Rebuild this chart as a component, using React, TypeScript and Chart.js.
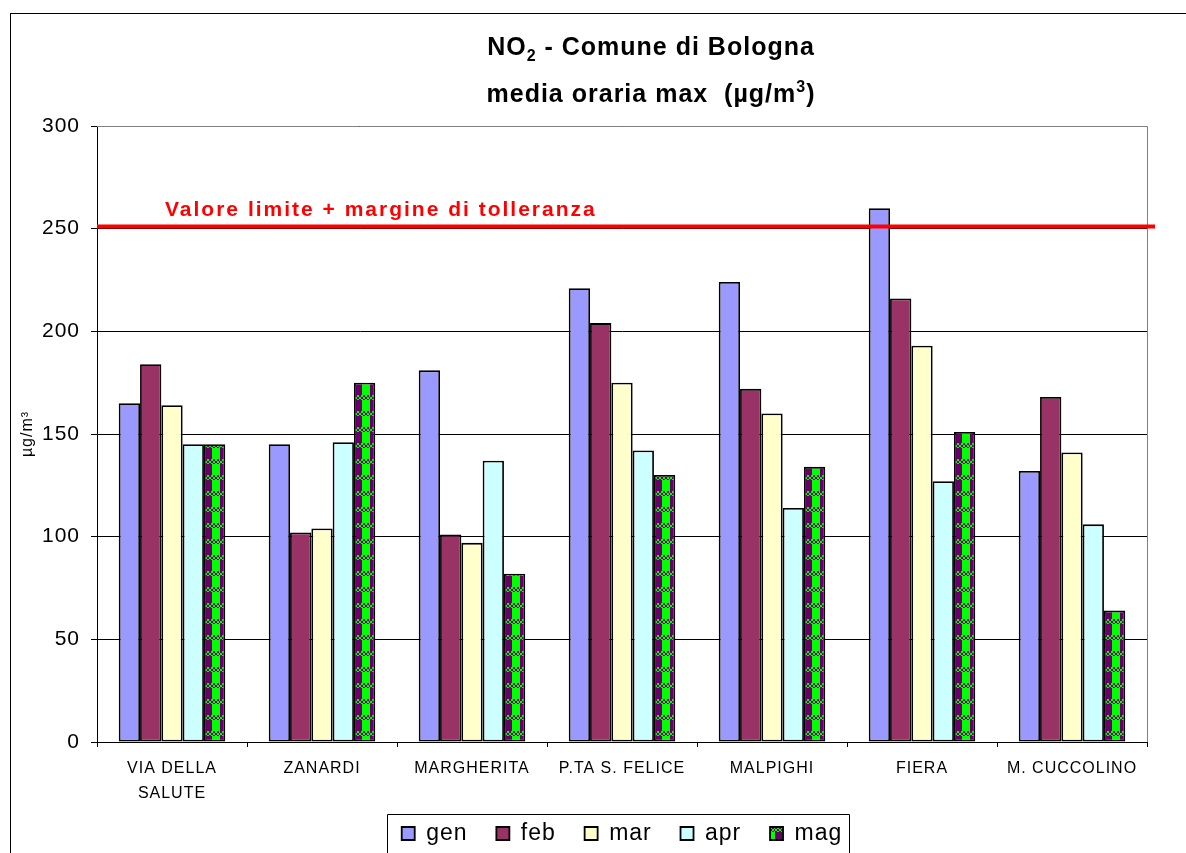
import React, { useEffect, useRef } from 'react';
import { Chart, registerables } from 'chart.js';

Chart.register(...registerables);

// ---------- DATA ----------
const categories: (string | string[])[] = [
  ['VIA DELLA', 'SALUTE'],
  'ZANARDI',
  'MARGHERITA',
  'P.TA S. FELICE',
  'MALPIGHI',
  'FIERA',
  'M. CUCCOLINO',
];
const seriesNames = ['gen', 'feb', 'mar', 'apr', 'mag'];
const genValues = [165, 145, 181, 221, 224, 260, 132];
const febValues = [184, 102, 101, 204, 172, 216, 168];
const marValues = [164, 104, 97, 175, 160, 193, 141];
const aprValues = [145, 146, 137, 142, 114, 127, 106];
const magValues = [145, 175, 82, 130, 134, 151, 64];
const yMin = 0;
const yMax = 300;
const yStep = 50;
const limitValue = 251;
const limitLabel = 'Valore limite + margine di tolleranza';
const yAxisTitle = 'µg/m³';
const titleLine1 = [
  { t: 'NO', k: 'n' },
  { t: '2', k: 'sub' },
  { t: ' - Comune di Bologna', k: 'n' },
];
const titleLine2 = [
  { t: 'media oraria max  (µg/m', k: 'n' },
  { t: '3', k: 'sup' },
  { t: ')', k: 'n' },
];

// ---------- STYLE ----------
const FONT = "'Liberation Sans', Arial, Helvetica, sans-serif";
const colors = ['#9999FF', '#993366', '#FFFFCC', '#CCFFFF'];

function makeMagPattern(ctx: CanvasRenderingContext2D): CanvasPattern | string {
  const c = document.createElement('canvas');
  c.width = 15;
  c.height = 16;
  const g = c.getContext('2d');
  if (!g) return '#00FF00';
  g.fillStyle = '#00FF00';
  g.fillRect(0, 0, 15, 16);
  g.fillStyle = '#660066';
  g.fillRect(0, 0, 7, 11);
  for (let y = 11; y < 16; y += 2) {
    for (let x = 0; x < 15; x += 2) {
      if (((x + (y - 11)) / 2) % 2 === 0) g.fillRect(x, y, 2, 2);
    }
  }
  const p = ctx.createPattern(c, 'repeat');
  if (!p) return '#00FF00';
  try {
    p.setTransform(new DOMMatrix().translate(10, 0));
  } catch (e) {}
  return p;
}

function drawRich(
  ctx: CanvasRenderingContext2D,
  parts: { t: string; k: string }[],
  cx: number,
  baseline: number,
  size: number
) {
  const fontFor = (k: string) =>
    `bold ${k === 'n' ? size : Math.round(size * 0.65)}px ${FONT}`;
  let total = 0;
  const widths = parts.map((p) => {
    ctx.font = fontFor(p.k);
    const w = ctx.measureText(p.t).width;
    total += w;
    return w;
  });
  let x = cx - total / 2;
  ctx.textAlign = 'left';
  ctx.textBaseline = 'alphabetic';
  parts.forEach((p, i) => {
    ctx.font = fontFor(p.k);
    const dy = p.k === 'sub' ? size * 0.22 : p.k === 'sup' ? -size * 0.42 : 0;
    ctx.fillText(p.t, x, baseline + dy);
    x += widths[i];
  });
}

const setSpacing = (chart: any) => {
  try {
    (chart.ctx as any).letterSpacing = '1px';
  } catch (e) {}
};

const decorPlugin = {
  id: 'decor',
  beforeUpdate(chart: any) {
    setSpacing(chart);
  },
  beforeLayout(chart: any) {
    setSpacing(chart);
  },
  beforeDraw(chart: any) {
    setSpacing(chart);
  },
  beforeDatasetsDraw(chart: any) {
    const { ctx, chartArea } = chart;
    ctx.save();
    ctx.strokeStyle = '#808080';
    ctx.lineWidth = 1;
    ctx.beginPath();
    ctx.moveTo(chartArea.left, Math.round(chartArea.top) + 0.5);
    ctx.lineTo(Math.round(chartArea.right) + 0.5, Math.round(chartArea.top) + 0.5);
    ctx.lineTo(Math.round(chartArea.right) + 0.5, chartArea.bottom);
    ctx.stroke();
    ctx.restore();
  },
  afterDatasetsDraw(chart: any) {
    const { ctx, chartArea, scales } = chart;
    const y = scales.y.getPixelForValue(limitValue);
    ctx.save();
    ctx.strokeStyle = '#FF0000';
    ctx.lineWidth = 4;
    ctx.beginPath();
    ctx.moveTo(chartArea.left, y);
    ctx.lineTo(chartArea.right + 8, y);
    ctx.stroke();
    ctx.fillStyle = '#FF0000';
    ctx.font = `bold 21px ${FONT}`;
    try {
      (ctx as any).letterSpacing = '2px';
    } catch (e) {}
    ctx.textAlign = 'left';
    ctx.textBaseline = 'alphabetic';
    ctx.fillText(limitLabel, 165, y - 11);
    ctx.restore();
  },
  afterDraw(chart: any) {
    const { ctx } = chart;
    ctx.save();
    // outer chart border
    ctx.strokeStyle = '#000';
    ctx.lineWidth = 1;
    ctx.strokeRect(10.5, 13.5, 5000, 5000);
    // title
    ctx.fillStyle = '#000';
    try {
      (ctx as any).letterSpacing = '1px';
    } catch (e) {}
    drawRich(ctx, titleLine1, 651, 55, 25);
    drawRich(ctx, titleLine2, 651, 102, 25);
    // legend frame
    const lg = chart.legend;
    if (lg && lg.legendHitBoxes && lg.legendHitBoxes.length) {
      const hb = lg.legendHitBoxes;
      const first = hb[0];
      const last = hb[hb.length - 1];
      const left = Math.round(first.left - 15) + 0.5;
      const right = Math.round(last.left + last.width + 7) + 0.5;
      const top = Math.round(first.top + first.height / 2 - 20) + 0.5;
      ctx.strokeStyle = '#000';
      ctx.lineWidth = 1;
      ctx.beginPath();
      ctx.moveTo(left, 900);
      ctx.lineTo(left, top);
      ctx.lineTo(right, top);
      ctx.lineTo(right, 900);
      ctx.stroke();
    }
    ctx.restore();
  },
};

export default function App() {
  const canvasRef = useRef<HTMLCanvasElement | null>(null);

  useEffect(() => {
    const canvas = canvasRef.current;
    if (!canvas) return;
    const ctx2d = canvas.getContext('2d') as CanvasRenderingContext2D;
    const magPattern = makeMagPattern(ctx2d);
    const seriesValues = [genValues, febValues, marValues, aprValues, magValues];

    Chart.defaults.font.family = FONT;
    Chart.defaults.color = '#000';

    const chart = new Chart(canvas, {
      type: 'bar',
      data: {
        labels: categories as any,
        datasets: seriesNames.map((name, i) => ({
          label: name,
          data: seriesValues[i],
          backgroundColor: i < 4 ? colors[i] : (magPattern as any),
          borderColor: '#000',
          borderWidth: 1.8,
          borderSkipped: false,
          categoryPercentage: 0.71,
          barPercentage: 1,
        })),
      },
      options: {
        responsive: false,
        animation: false,
        devicePixelRatio: 1,
        layout: { padding: { left: 12, right: 39, top: 126, bottom: 0 } },
        plugins: {
          title: { display: false },
          tooltip: { enabled: false },
          legend: {
            display: true,
            position: 'bottom',
            fullSize: false,
            labels: {
              boxWidth: 13,
              boxHeight: 13,
              padding: 14,
              color: '#000',
              font: { size: 23 },
              generateLabels: (chart: any) => {
                const items = Chart.defaults.plugins.legend.labels.generateLabels(chart);
                return items.map((it: any, idx: number) => ({
                  ...it,
                  text: idx < items.length - 1 ? it.text + '  ' : it.text,
                }));
              },
            },
          },
        },
        scales: {
          x: {
            grid: {
              drawOnChartArea: false,
              drawTicks: true,
              tickLength: 5,
              color: '#000',
            },
            border: { color: '#000', width: 1 },
            ticks: {
              color: '#000',
              font: { size: 16, lineHeight: 1.56 },
              padding: 9,
              maxRotation: 0,
              autoSkip: false,
            },
            afterFit: (scale: any) => {
              scale.height = 66;
            },
          },
          y: {
            min: yMin,
            max: yMax,
            grid: {
              color: '#000',
              lineWidth: 1,
              drawTicks: true,
              tickLength: 6,
            },
            border: { color: '#000', width: 1 },
            ticks: {
              stepSize: yStep,
              color: '#000',
              font: { size: 21 },
              padding: 11,
            },
            title: {
              display: true,
              text: yAxisTitle,
              color: '#000',
              font: { size: 16 },
              padding: { top: 6, bottom: 0 },
            },
            afterFit: (scale: any) => {
              scale.width = 85;
            },
          },
        },
      },
      plugins: [decorPlugin],
    });

    return () => {
      chart.destroy();
    };
  }, []);

  return (
    <div
      style={{
        position: 'absolute',
        left: 0,
        top: 0,
        width: 1186,
        height: 853,
        overflow: 'hidden',
        background: '#fff',
      }}
    >
      <canvas ref={canvasRef} width={1186} height={855} style={{ display: 'block' }} />
    </div>
  );
}
